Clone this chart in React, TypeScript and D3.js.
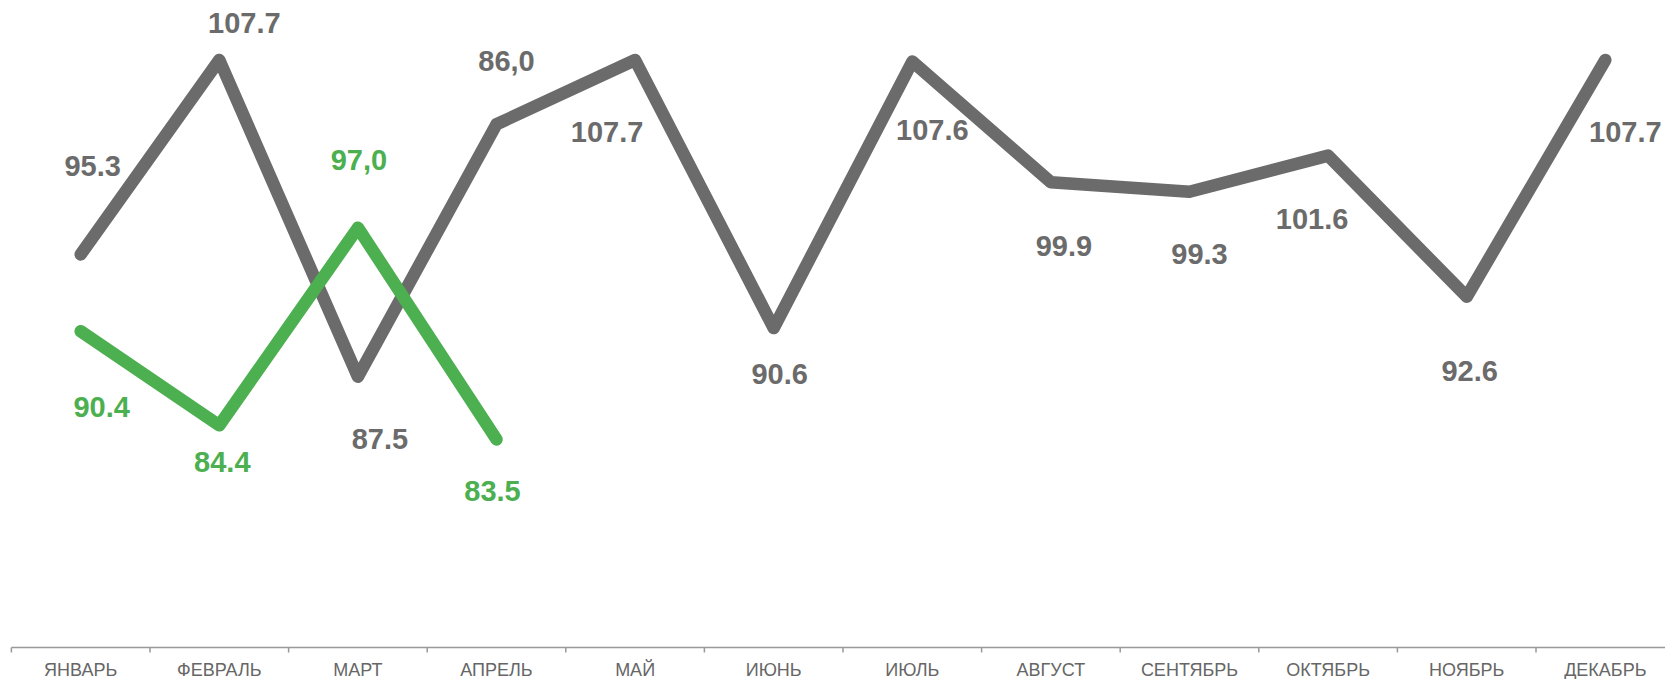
import React from "react";
import * as d3 from "d3";

const months = ["ЯНВАРЬ", "ФЕВРАЛЬ", "МАРТ", "АПРЕЛЬ", "МАЙ", "ИЮНЬ", "ИЮЛЬ", "АВГУСТ", "СЕНТЯБРЬ", "ОКТЯБРЬ", "НОЯБРЬ", "ДЕКАБРЬ"];
const grayValues = [95.3, 107.7, 87.5, 103.6, 107.7, 90.6, 107.6, 99.9, 99.3, 101.6, 92.6, 107.7];
const grayLabels = ["95.3", "107.7", "87.5", "86,0", "107.7", "90.6", "107.6", "99.9", "99.3", "101.6", "92.6", "107.7"];
const greenValues = [90.4, 84.4, 97.0, 83.5];
const greenLabels = ["90.4", "84.4", "97,0", "83.5"];

// label placement (layout only), pixel offsets from the point to the text baseline centre
const grayLabelOffsets: [number, number][] = [
  [12, -78], [25, -27], [22, 72], [10, -53], [-28, 82], [6, 56],
  [20, 78], [13, 74], [10, 72], [-16, 73], [3, 84], [20, 82],
];
const greenLabelOffsets: [number, number][] = [[21, 86], [3, 47], [1, -58], [-4, 62]];

const W = 1665;
const H = 679;
const GRAY = "#6b6b6b";
const GREEN = "#4caf50";

export default function App() {
  const step = 138.6;
  const x0 = 11.4;
  const x = d3.scaleBand<string>().domain(months).range([x0, x0 + step * months.length]).paddingInner(0).paddingOuter(0);
  const y = d3.scaleLinear().domain([87.5, 107.7]).range([376.7, 60]);
  const cx = (i: number) => (x(months[i]) as number) + x.bandwidth() / 2;

  const line = d3.line<number>().x((_, i) => cx(i)).y((v) => y(v));
  const axisY = 647.5;

  return (
    <svg width={W} height={H} style={{ position: "absolute", left: 0, top: 0 }} fontFamily="'Liberation Sans', Arial, sans-serif">
      <path d={line(grayValues) || ""} fill="none" stroke={GRAY} strokeWidth={12.5} strokeLinecap="round" strokeLinejoin="round" />
      <path d={line(greenValues) || ""} fill="none" stroke={GREEN} strokeWidth={12.5} strokeLinecap="round" strokeLinejoin="round" />

      {grayValues.map((v, i) => (
        <text key={"g" + i} x={cx(i) + grayLabelOffsets[i][0]} y={y(v) + grayLabelOffsets[i][1]} textAnchor="middle" fontWeight="bold" fontSize={29} fill={GRAY}>
          {grayLabels[i]}
        </text>
      ))}
      {greenValues.map((v, i) => (
        <text key={"n" + i} x={cx(i) + greenLabelOffsets[i][0]} y={y(v) + greenLabelOffsets[i][1]} textAnchor="middle" fontWeight="bold" fontSize={29} fill={GREEN}>
          {greenLabels[i]}
        </text>
      ))}

      <line x1={x0} x2={W} y1={axisY} y2={axisY} stroke="#999" strokeWidth={1.5} />
      {months.map((m) => (
        <line key={"t" + m} x1={x(m) as number} x2={x(m) as number} y1={axisY} y2={axisY + 5} stroke="#999" strokeWidth={1.5} />
      ))}
      {months.map((m, i) => (
        <text key={"l" + m} x={cx(i)} y={676} textAnchor="middle" fontSize={18} fill="#666">
          {m}
        </text>
      ))}
    </svg>
  );
}
